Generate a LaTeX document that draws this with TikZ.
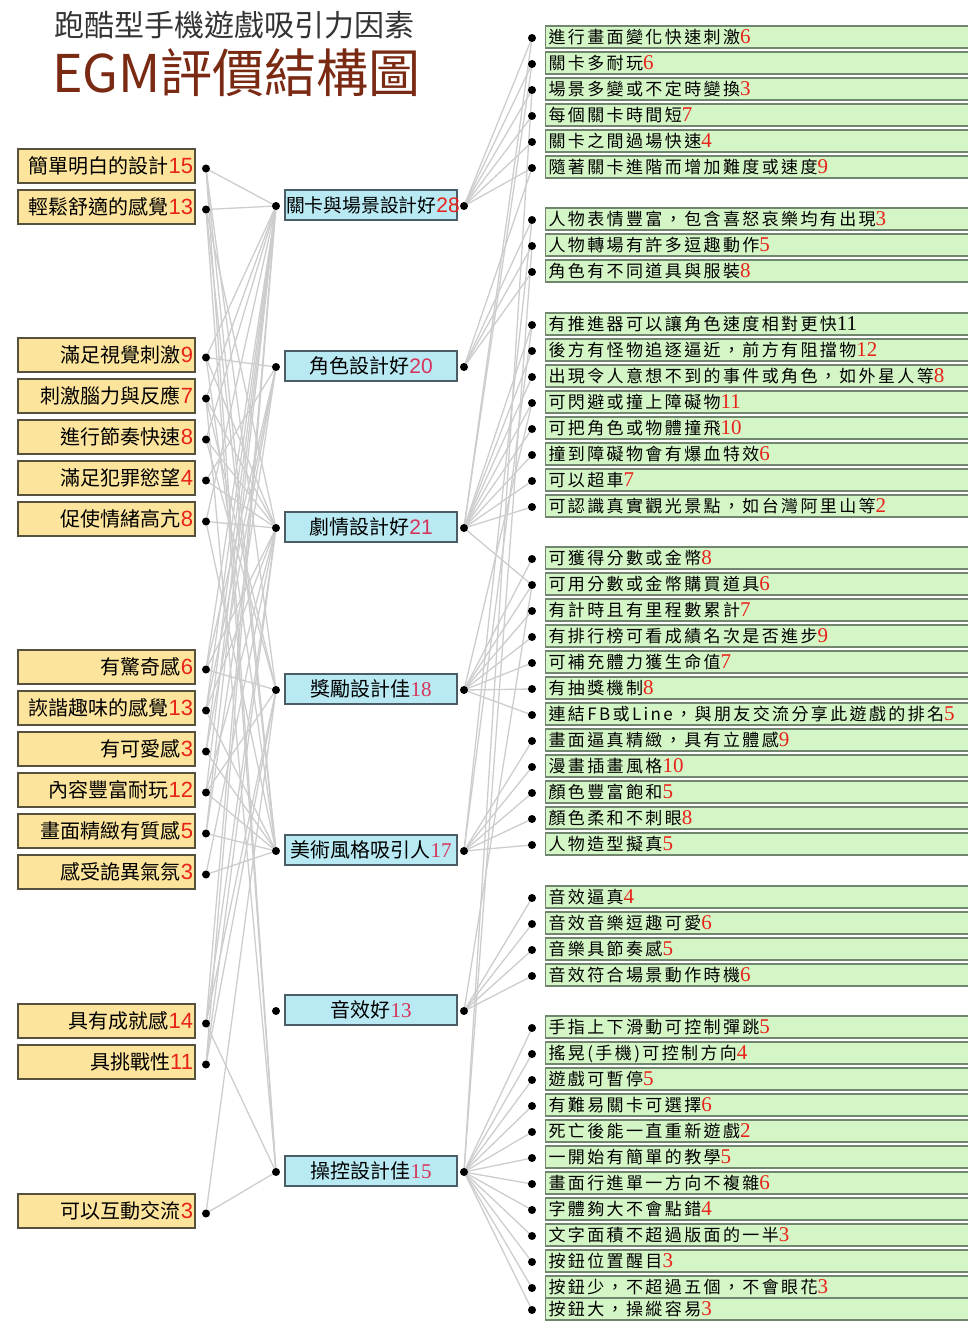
\documentclass[tikz,border=0pt]{standalone}
\usepackage{fontspec}
\setmainfont{Noto Sans CJK TC}
\newfontfamily\cjkfont{Noto Sans CJK TC}
\newfontfamily\cjkwide[LetterSpace=14]{Noto Sans CJK TC}
\newfontfamily\serifnum{Liberation Serif}
\newfontfamily\sansnum{Liberation Sans}
\usetikzlibrary{backgrounds}

\definecolor{ybox}{HTML}{FCE49C}
\definecolor{yborder}{HTML}{55513C}
\definecolor{bbox}{HTML}{B9EAF4}
\definecolor{bborder}{HTML}{4A5C66}
\definecolor{gbox}{HTML}{D4F6C6}
\definecolor{gborder}{HTML}{72866F}
\definecolor{numred}{HTML}{E8231A}
\definecolor{numpink}{HTML}{D6335A}
\definecolor{titlebrown}{HTML}{7A2A13}
\definecolor{titlegray}{HTML}{333333}
\definecolor{linegray}{HTML}{CDCDCD}

\newcommand\Ltxt[2]{{\fontsize{20}{20}\selectfont\cjkfont #1}{\fontsize{22}{22}\selectfont\sansnum\color{numred}#2}}
\newcommand\Rtxt[3]{{\fontsize{17}{17}\selectfont\cjkwide #1}{\fontsize{21}{21}\selectfont\serifnum\color{#3}#2}}
\newcommand\Mtxt[5]{{\fontsize{#5}{#5}\selectfont\cjkfont #1}{\fontsize{21}{21}\selectfont#3\color{#4}#2}}

\tikzset{
  lbox/.style={draw=yborder, fill=ybox, line width=1.4, minimum width=177, minimum height=34,
    text width=173, inner xsep=2, inner ysep=0, align=right, text height=17.5, text depth=2.5},
  mbox/.style={draw=bborder, fill=bbox, line width=1.4, minimum width=172, minimum height=30,
    text width=170, inner xsep=1, inner ysep=0, align=center, text height=17.5, text depth=2.5},
  rbox/.style={draw=gborder, fill=gbox, line width=1.2, anchor=west, minimum height=22,
    text width=440, inner xsep=3, inner ysep=0, align=left, text height=15, text depth=2},
  dot/.style={circle, fill=black, inner sep=0, minimum size=8},
  conn/.style={draw=linegray, line width=1.3}
}

\begin{document}
\begin{tikzpicture}[x=1pt,y=-1pt]
\useasboundingbox (0,0) rectangle (968,1321);

% titles
\node[anchor=west, inner sep=0, text=titlegray, font=\fontsize{30}{30}\selectfont\cjkfont] (t1) at (54,25) {跑酷型手機遊戲吸引力因素};
\node[anchor=west, inner sep=0, text=titlebrown, font=\fontsize{52}{52}\selectfont\cjkfont] (t2) at (52,73) {EGM評價結構圖};

% left boxes
\foreach \i/\y/\t/\n in {1/166/簡單明白的設計/15, 2/207/輕鬆舒適的感覺/13, 3/355/滿足視覺刺激/9,
  4/396/刺激腦力與反應/7, 5/437/進行節奏快速/8, 6/478/滿足犯罪慾望/4, 7/519/促使情緒高亢/8,
  8/667/有驚奇感/6, 9/708/詼諧趣味的感覺/13, 10/749/有可愛感/3, 11/790/內容豐富耐玩/12,
  12/831/畫面精緻有質感/5, 13/872/感受詭異氣氛/3, 14/1021/具有成就感/14, 15/1062/具挑戰性/11,
  16/1211/可以互動交流/3} {
  \node[lbox] (L\i) at (106.5,\y) {\Ltxt{\t}{\n}};
  \node[dot] (l\i) at (206,\y+2.5) {};
}

% middle boxes
\foreach \i/\y/\t/\n/\f/\c/\s in {1/205/關卡與場景設計好/28/\sansnum/numred/18.8, 2/366/角色設計好/20/\sansnum/numpink/20,
  3/527/劇情設計好/21/\sansnum/numpink/20, 4/689/獎勵設計佳/18/\serifnum/numpink/20,
  5/850/美術風格吸引人/17/\serifnum/numpink/20, 6/1010/音效好/13/\serifnum/numpink/20,
  7/1171/操控設計佳/15/\serifnum/numpink/20} {
  \node[mbox] (M\i) at (371,\y) {\Mtxt{\t}{\n}{\f}{\c}{\s}};
  \node[dot] (ml\i) at (276,\y+1) {};
  \node[dot] (mr\i) at (464,\y+1) {};
}

% right boxes
\foreach \i/\y/\t/\n/\c in {1/37/進行畫面變化快速刺激/6/numred, 2/63/關卡多耐玩/6/numred,
  3/89/場景多變或不定時變換/3/numred, 4/115/每個關卡時間短/7/numred, 5/141/關卡之間過場快速/4/numred,
  6/167/隨著關卡進階而增加難度或速度/9/numred, 7/219/人物表情豐富，包含喜怒哀樂均有出現/3/numred,
  8/245/人物轉場有許多逗趣動作/5/numred, 9/271/角色有不同道具與服裝/8/numred,
  10/324/有推進器可以讓角色速度相對更快/11/black, 11/350/後方有怪物追逐逼近，前方有阻擋物/12/numred,
  12/376/出現令人意想不到的事件或角色，如外星人等/8/numred, 13/402/可閃避或撞上障礙物/11/numred,
  14/428/可把角色或物體撞飛/10/numred, 15/454/撞到障礙物會有爆血特效/6/numred,
  16/480/可以超車/7/numred, 17/506/可認識真實觀光景點，如台灣阿里山等/2/numred,
  18/558/可獲得分數或金幣/8/numred, 19/584/可用分數或金幣購買道具/6/numred,
  20/610/有計時且有里程數累計/7/numred, 21/636/有排行榜可看成績名次是否進步/9/numred,
  22/662/可補充體力獲生命值/7/numred, 23/688/有抽獎機制/8/numred,
  24/714/連結FB或Line，與朋友交流分享此遊戲的排名/5/numred,
  25/740/畫面逼真精緻，具有立體感/9/numred, 26/766/漫畫插畫風格/10/numred,
  27/792/顏色豐富飽和/5/numred, 28/818/顏色柔和不刺眼/8/numred, 29/844/人物造型擬真/5/numred,
  30/897/音效逼真/4/numred, 31/923/音效音樂逗趣可愛/6/numred, 32/949/音樂具節奏感/5/numred,
  33/975/音效符合場景動作時機/6/numred, 34/1027/手指上下滑動可控制彈跳/5/numred,
  35/1053/搖晃(手機)可控制方向/4/numred, 36/1079/遊戲可暫停/5/numred, 37/1105/有難易關卡可選擇/6/numred,
  38/1131/死亡後能一直重新遊戲/2/numred, 39/1157/一開始有簡單的教學/5/numred,
  40/1183/畫面行進單一方向不複雜/6/numred, 41/1209/字體夠大不會點錯/4/numred,
  42/1235/文字面積不超過版面的一半/3/numred, 43/1261/按鈕位置醒目/3/numred,
  44/1287/按鈕少，不超過五個，不會眼花/3/numred, 45/1309/按鈕大，操縱容易/3/numred} {
  \node[rbox] (R\i) at (545,\y) {\Rtxt{\t}{\n}{\c}};
  \node[dot] (rd\i) at (532,\y+1) {};
}

% connectors
\begin{scope}[on background layer]
\foreach \a/\b in {1/1,1/4,1/5,1/7, 2/1,2/3,2/5,2/7, 3/1,3/2,3/3,3/5, 4/1,4/3,4/4,4/7,
  5/1,5/3,5/4, 6/2,6/3, 7/1,7/3,7/5, 8/1,8/2,8/3,8/4, 9/1,9/2,9/3,9/5,
  10/2,10/5,10/1, 11/1,11/3,11/4,11/5, 12/5,12/1,12/2, 13/5,13/3,
  14/1,14/3,14/4,14/7, 15/1,15/3,15/4, 16/4,16/7}
  \draw[conn] (l\a.center) -- (ml\b.center);
\foreach \b/\s/\e in {1/1/6, 2/7/9, 3/10/17, 4/18/24, 5/25/29, 6/30/33, 7/34/45}
  \foreach \a in {\s,...,\e}
    \draw[conn] (mr\b.center) -- (rd\a.center);
\foreach \b/\a in {3/1,3/2,3/19,7/3,7/8,5/7,5/10,6/19,4/13,2/6}
  \draw[conn] (mr\b.center) -- (rd\a.center);
\end{scope}
\end{tikzpicture}
\end{document}
